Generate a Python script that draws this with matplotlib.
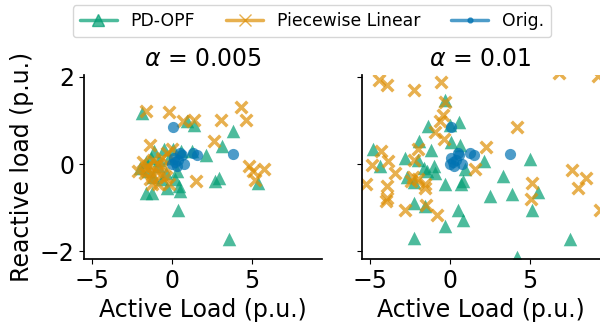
import matplotlib
matplotlib.use("Agg")
import matplotlib.pyplot as plt
import seaborn as sns
from matplotlib.lines import Line2D

sns.set_theme(style="ticks")
plt.rcParams['font.family'] = ['DejaVu Sans']
for k in ['text.color', 'axes.labelcolor', 'xtick.color', 'ytick.color', 'axes.edgecolor']:
    plt.rcParams[k] = 'black'

titles = ["$\\alpha$ = 0.005", "$\\alpha$ = 0.01"]
legend_labels = ["PD-OPF", "Piecewise Linear", "Orig."]

# Original loads (same in both panels)
orig_x = [0.08, 3.80, 1.30, 1.55, 0.00, 0.20, 0.40, 0.60, 0.30, 0.78, 0.10, 0.50]
orig_y = [0.86, 0.23, 0.25, 0.20, 0.00, 0.05, 0.10, 0.20, -0.05, 0.00, 0.15, 0.25]

# alpha = 0.005
pd_x_1 = [-1.86, 0.95, 1.37, 3.84, 3.10, 2.15, 1.27, -1.10, -0.50, 0.05, 0.55, -1.30, -0.80,
          -0.20, -1.60, -2.00, -1.50, -0.90, -0.40, 0.30, -1.20, -0.60, 0.20, 2.68, 2.95,
          5.38, -1.65, -1.22, -0.32, 0.46, 0.50, 0.36, 3.59]
pd_y_1 = [1.17, 0.98, 0.90, 0.75, 0.42, 0.21, 0.29, 0.30, 0.35, 0.35, 0.30, 0.15, 0.10,
          0.15, 0.05, -0.10, -0.15, -0.05, -0.20, -0.15, -0.30, -0.35, -0.35, -0.40, -0.32,
          -0.44, -0.67, -0.67, -0.55, -0.51, -0.62, -1.05, -1.72]
pw_x_1 = [-1.65, -0.17, 0.68, 1.37, 3.04, 4.30, 4.62, 2.64, -1.37, 1.52, 4.83, 5.04, 5.76,
          5.20, -1.80, -1.50, -1.20, -0.90, -0.60, -0.30, 0.00, -2.10, -1.70, -1.30, -1.00,
          -0.70, -0.40, -1.40, -1.25, -0.90, -0.20, -1.60, -0.50]
pw_y_1 = [1.21, 1.19, 0.98, 1.00, 1.02, 1.31, 1.00, 0.54, 0.44, -0.38, -0.05, -0.17, -0.11,
          -0.36, 0.05, -0.05, 0.10, 0.00, 0.15, 0.25, 0.35, -0.15, -0.20, -0.20, -0.15,
          -0.25, -0.30, -0.35, -0.45, -0.45, -0.45, -0.10, -0.05]

# alpha = 0.01
pd_x_2 = [-0.30, -1.35, 0.61, 0.00, -1.94, 0.10, 0.65, -1.18, -4.77, -4.35, -2.78, -2.00,
          -1.60, -1.40, -1.00, -0.90, -2.66, -2.20, 2.13, 0.97, 0.86, 0.70, -0.30, 3.33,
          5.04, 3.92, 5.55, 2.55, 5.15, -2.20, -1.56, 0.55, 0.86, -0.30, -2.24, 7.55, 4.18]
pd_y_2 = [1.46, 0.88, 0.96, 0.90, 0.54, 0.50, 0.44, 0.33, 0.34, -0.04, 0.14, 0.10,
          -0.10, -0.15, -0.05, -0.20, -0.29, -0.41, 0.06, -0.12, -0.40, -0.45, -0.46, -0.27,
          0.11, -0.68, -0.65, -0.73, -1.05, -0.90, -0.97, -1.05, -1.28, -1.43, -1.70, -1.72, -2.14]
pw_x_2 = [-4.41, -3.92, -2.24, -0.55, -0.30, -0.40, -0.63, -0.93, -0.34, 4.18, 6.84, 9.26,
          2.30, 1.60, -4.30, -4.83, -3.84, -3.40, -5.25, -3.92, -3.98, -3.92, -2.78, -2.40,
          -2.00, -2.20, -2.30, -2.00, -1.56, -1.56, -1.50, -0.76, 5.15, 5.08, 7.68, 8.52,
          8.04, 9.41]
pw_y_2 = [1.94, 1.82, 1.71, 1.88, 1.43, 1.13, 0.98, 0.73, 0.58, 0.86, 2.09, 2.03,
          0.39, -0.12, 0.29, -0.02, 0.06, -0.20, -0.46, -0.51, -0.85, -0.77, -1.05, -0.40,
          0.35, 0.10, -0.30, -0.35, -0.45, -0.55, -0.95, -1.17, -0.44, -0.80, -0.13, -0.32,
          -0.55, -1.05]

green = "#029e73"
orange = "#de8f05"
blue = "#0173b2"

fig, axes = plt.subplots(1, 2, figsize=(6, 3.25), dpi=100, sharey=True)
fig.subplots_adjust(left=0.14, right=1.0, bottom=0.203, top=0.77, wspace=0.165)

panels = [(pd_x_1, pd_y_1, pw_x_1, pw_y_1), (pd_x_2, pd_y_2, pw_x_2, pw_y_2)]
for ax, (px, py, wx, wy), t in zip(axes, panels, titles):
    ax.scatter(px, py, marker="^", s=95, color=green, alpha=0.7, linewidths=0)
    ax.scatter(wx, wy, marker="x", s=70, color=orange, alpha=0.7, linewidths=2.5)
    ax.scatter(orig_x, orig_y, marker="o", s=65, color=blue, alpha=0.7, linewidths=0)
    ax.set_xlim(-5.5, 9.4)
    ax.set_ylim(-2.18, 2.05)
    ax.set_xticks([-5, 0, 5])
    ax.set_yticks([-2, 0, 2])
    ax.set_title(t, fontsize=17)
    ax.set_xlabel("Active Load (p.u.)", fontsize=17)
    ax.tick_params(labelsize=17, length=3.5, width=0.8)
    sns.despine(ax=ax)
axes[0].set_ylabel("Reactive load (p.u.)", fontsize=17)

handles = [
    Line2D([0], [0], color=green, marker="^", markersize=9, lw=2.5, alpha=0.7),
    Line2D([0], [0], color=orange, marker="x", markersize=9, lw=2.5, alpha=0.7),
    Line2D([0], [0], color=blue, marker=".", markersize=7, lw=2.5, alpha=0.7),
]
fig.legend(handles, legend_labels, loc="upper center", bbox_to_anchor=(0.52, 1.01),
           ncol=3, fontsize=12.4, frameon=True, handlelength=2.15, columnspacing=1.8)

fig.savefig("out.png", dpi=100)
